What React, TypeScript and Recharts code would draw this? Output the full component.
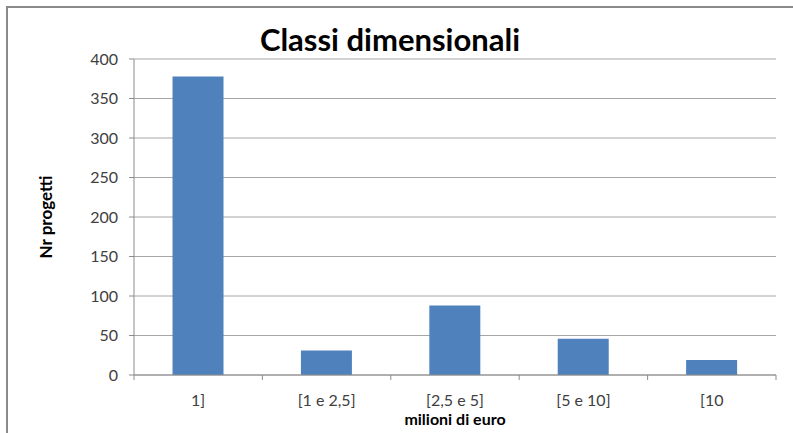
import { BarChart, Bar, XAxis, YAxis, CartesianGrid, Label } from "recharts";

const categories = ["1]", "[1 e 2,5]", "[2,5 e 5]", "[5 e 10]", "[10"];
const projects = [378, 31, 88, 46, 19];
const yTicks = [0, 50, 100, 150, 200, 250, 300, 350, 400];

const data = categories.map((c, i) => ({ name: c, value: projects[i] }));

const W = 793;
const H = 433;
const MARGIN = { top: 59, right: 17, bottom: 18, left: 60 };
const Y_WIDTH = 74;
const FONT = "Lato, 'Noto Sans', sans-serif";
const AXIS = "#8c8c8c";

const plotWidth = W - MARGIN.left - MARGIN.right - Y_WIDTH;
const band = plotWidth / categories.length;

const XTick = (props: any) => {
  const { x, y, payload, index } = props;
  const left = x - band / 2;
  return (
    <g>
      <line x1={left} y1={y} x2={left} y2={y + 5} stroke={AXIS} />
      {index === categories.length - 1 && (
        <line x1={left + band} y1={y} x2={left + band} y2={y + 5} stroke={AXIS} />
      )}
      <text x={x} y={y + 31} textAnchor="middle" fill="#404040" fontSize={16} fontFamily={FONT}>
        {payload.value}
      </text>
    </g>
  );
};

export default function App() {
  return (
    <div style={{ position: "fixed", left: 0, top: 0, width: W, height: H, background: "#fff" }}>
      <div
        style={{
          position: "absolute",
          left: 6,
          top: 6,
          width: 790,
          height: 425,
          borderLeft: "2px solid #8a8a8a",
          borderTop: "2px solid #8a8a8a",
          borderBottom: "1px solid #e0e0e0",
        }}
      />
      <div
        style={{
          position: "absolute",
          left: 0,
          width: 780,
          top: 20,
          textAlign: "center",
          fontFamily: FONT,
          fontWeight: 700,
          fontSize: 31,
          color: "#000",
        }}
      >
        Classi dimensionali
      </div>
      <div style={{ position: "absolute", left: 0, top: 0 }}>
        <BarChart width={W} height={H} data={data} margin={MARGIN} barCategoryGap="30%">
          <CartesianGrid vertical={false} stroke="#a6a6a6" />
          <XAxis
            dataKey="name"
            height={40}
            tickLine={false}
            tickSize={0}
            tickMargin={0}
            stroke={AXIS}
            tick={<XTick />}
            interval={0}
          >
            <Label
              value="milioni di euro"
              position="insideBottom"
              offset={-10}
              fill="#000"
              fontWeight={700}
              fontSize={16}
              fontFamily={FONT}
            />
          </XAxis>
          <YAxis
            width={Y_WIDTH}
            domain={[0, 400]}
            ticks={yTicks}
            tickSize={5}
            tickMargin={11}
            stroke={AXIS}
            tick={{ fill: "#404040", fontSize: 16, fontFamily: FONT }}
            interval={0}
          >
            <Label
              value="Nr progetti"
              angle={-90}
              position="insideLeft"
              offset={-14}
              fill="#000"
              fontWeight={700}
              fontSize={17}
              fontFamily={FONT}
              style={{ textAnchor: "middle" }}
            />
          </YAxis>
          <Bar dataKey="value" fill="#4f81bd" isAnimationActive={false} />
        </BarChart>
      </div>
    </div>
  );
}
